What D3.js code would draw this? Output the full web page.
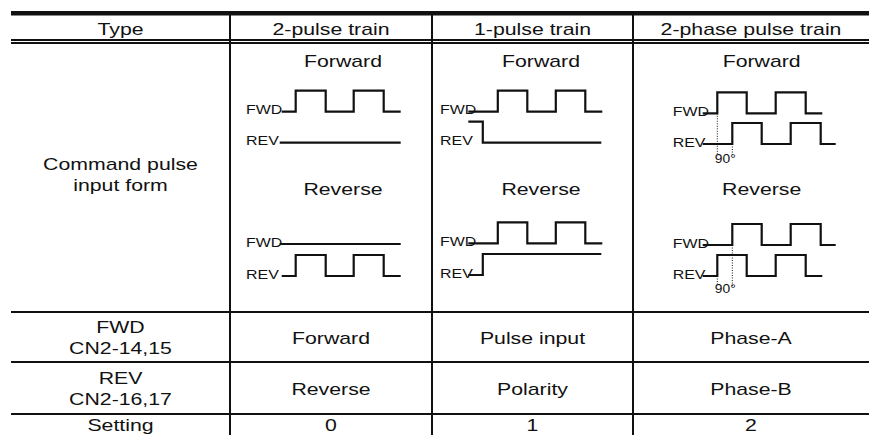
<!DOCTYPE html>
<html><head><meta charset="utf-8">
<script src="https://cdn.jsdelivr.net/npm/d3@7"></script>
<style>body{margin:0;background:#fff}svg{display:block}</style>
</head><body>
<script>
// ---- data ----
const headers = ["Type", "2-pulse train", "1-pulse train", "2-phase pulse train"];
const colEdges = [11, 230, 432, 633, 869];
const rowLines = [312, 362, 414];
const leftLabels = [["Command pulse", "input form"], ["FWD", "CN2-14,15"], ["REV", "CN2-16,17"], ["Setting"]];
const fwdRow = ["Forward", "Pulse input", "Phase-A"];
const revRow = ["Reverse", "Polarity", "Phase-B"];
const settings = ["0", "1", "2"];
const directions = ["Forward", "Reverse"];

// waveform step points [time, level]
const col1Pulse = [[0,0],[14,1],[44,0],[72,1],[102,0],[119,0]];
const col1Flat = [[-2,0],[119,0]];
const col2Pulse = [[0,0],[29.5,1],[59,0],[87.5,1],[117,0],[134,0]];
const col2PolFwd = [[0,1],[14.5,0],[133,0]];
const col2PolRev = [[0,0],[14.5,1],[133,1]];
const col3A = [[0,0],[14.6,1],[44,0],[73,1],[103,0],[119.6,0]];
const col3B = [[0,0],[29.6,1],[59,0],[88,1],[118,0],[133,0]];

const W = 869, H = 435, SX = 1.33;
const svg = d3.select("body").append("svg").attr("width", W).attr("height", H);
const font = "'Liberation Sans', Arial, Helvetica, sans-serif";
const ink = "#111";

function txt(x, y, s, size, anchor, sx) {
  svg.append("text")
    .attr("transform", `translate(${x},${y}) scale(${sx || SX},1)`)
    .attr("text-anchor", anchor || "middle")
    .attr("font-family", font).attr("font-size", size)
    .attr("fill", ink).text(s);
}

// ---- table rules ----
svg.append("rect").attr("x", colEdges[0]).attr("y", 11).attr("width", W - colEdges[0]).attr("height", 4.5).attr("fill", ink);
[40, 43].forEach(y => svg.append("line").attr("x1", colEdges[0]).attr("x2", W).attr("y1", y).attr("y2", y).attr("stroke", ink).attr("stroke-width", 2));
rowLines.forEach(y => svg.append("line").attr("x1", colEdges[0]).attr("x2", W).attr("y1", y).attr("y2", y).attr("stroke", ink).attr("stroke-width", 2));
colEdges.slice(1, 4).forEach(x => svg.append("line").attr("x1", x).attr("x2", x).attr("y1", 13).attr("y2", H).attr("stroke", ink).attr("stroke-width", 2));

const centers = d3.range(4).map(i => (colEdges[i] + colEdges[i + 1]) / 2);

// header
headers.forEach((h, i) => txt(centers[i], 35, h, 16));
// left labels
txt(centers[0], 170, leftLabels[0][0], 16);
txt(centers[0], 191, leftLabels[0][1], 16);
txt(centers[0], 333, leftLabels[1][0], 16);
txt(centers[0], 354, leftLabels[1][1], 16);
txt(centers[0], 384, leftLabels[2][0], 16);
txt(centers[0], 405, leftLabels[2][1], 16);
txt(centers[0], 431, leftLabels[3][0], 16);
fwdRow.forEach((s, i) => txt(centers[i + 1], 344, s, 16));
revRow.forEach((s, i) => txt(centers[i + 1], 395, s, 16));
settings.forEach((s, i) => txt(centers[i + 1], 431, s, 16));

// ---- waveforms ----
const titleX = [343, 541, 761.7];
titleX.forEach(x => { txt(x, 67, directions[0], 16); txt(x, 195, directions[1], 16); });

const labelX = [246, 440, 672.7];
const origin = [281.7, 468.3, 702.7];
const panels = [
  // forward
  {col: 0, fwdY: 111.7, revY: 142.7, fwd: col1Pulse, rev: col1Flat},
  {col: 1, fwdY: 111.7, revY: 142.7, fwd: col2Pulse, rev: col2PolFwd},
  {col: 2, fwdY: 113.3, revY: 144, fwd: col3A, rev: col3B, deg: {a: 14.6, b: 29.6, bottom: 155, ly: 163}},
  // reverse
  {col: 0, fwdY: 244, revY: 276, fwd: col1Flat, rev: col1Pulse},
  {col: 1, fwdY: 243.3, revY: 275, fwd: col2Pulse, rev: col2PolRev},
  {col: 2, fwdY: 245, revY: 276, fwd: col3B, rev: col3A, deg: {a: 14.6, b: 29.6, bottom: 286, ly: 293, rev: true}}
];
const amp = 21;
panels.forEach(p => {
  const x = d3.scaleLinear().domain([0, 1]).range([origin[p.col], origin[p.col] + 1]);
  const yF = d3.scaleLinear().domain([0, 1]).range([p.fwdY, p.fwdY - amp]);
  const yR = d3.scaleLinear().domain([0, 1]).range([p.revY, p.revY - amp]);
  const lf = d3.line().x(d => x(d[0])).y(d => yF(d[1])).curve(d3.curveStepAfter);
  const lr = d3.line().x(d => x(d[0])).y(d => yR(d[1])).curve(d3.curveStepAfter);
  svg.append("path").attr("d", lf(p.fwd)).attr("fill", "none").attr("stroke", ink).attr("stroke-width", 2.2);
  svg.append("path").attr("d", lr(p.rev)).attr("fill", "none").attr("stroke", ink).attr("stroke-width", 2.2);
  txt(labelX[p.col], p.fwdY + 2.5, "FWD", 12, "start");
  txt(labelX[p.col], p.revY + 2.5, "REV", 12, "start");
  if (p.deg) {
    const d = p.deg;
    const aTop = d.rev ? yR(0) : yF(0);
    const bTop = d.rev ? yF(0) : yR(0);
    svg.append("line").attr("x1", x(d.a)).attr("x2", x(d.a)).attr("y1", aTop).attr("y2", d.bottom)
      .attr("stroke", ink).attr("stroke-width", 1).attr("stroke-dasharray", "1,1.5");
    svg.append("line").attr("x1", x(d.b)).attr("x2", x(d.b)).attr("y1", bTop).attr("y2", d.bottom)
      .attr("stroke", ink).attr("stroke-width", 1).attr("stroke-dasharray", "1,1.5");
    txt(x(d.a) - 2.5, d.ly, "90°", 12, "start", 1.15);
  }
});
</script>
</body></html>
